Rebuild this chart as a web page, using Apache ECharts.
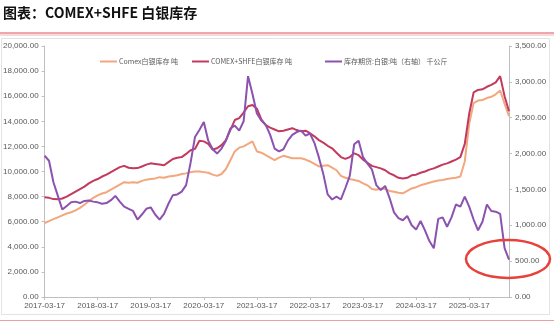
<!DOCTYPE html>
<html><head><meta charset="utf-8">
<script src="https://cdn.jsdelivr.net/npm/echarts@6/dist/echarts.min.js"></script>
<style>html,body{margin:0;padding:0;background:#fff}#c{width:554px;height:324px}</style>
</head><body><div id="c"></div>
<script>
// Monthly dates from 2017-03 to 2025-12
const categories = [];
for (let y = 2017; y <= 2025; y++) {
  for (let m = 1; m <= 12; m++) {
    if (y === 2017 && m < 3) continue;
    categories.push(y + '-' + String(m).padStart(2, '0') + '-17');
  }
}
const seriesNames = ['Comex白银库存 吨', 'COMEX+SHFE白银库存 吨', '库存期货:白银:吨（右轴） 千公斤'];
const comex = [5900,6050,6200,6350,6500,6650,6750,6900,7100,7350,7650,7900,8100,8250,8350,8550,8750,8950,9150,9100,9150,9100,9250,9350,9400,9450,9550,9500,9600,9650,9700,9800,9850,9950,10000,10000,9950,9900,9750,9650,9800,10200,10900,11600,11900,12000,12200,12400,11600,11500,11300,11100,10900,11100,11250,11150,11050,11050,11050,10950,10800,10600,10400,10450,10500,10300,10100,9650,9500,9400,9330,9250,9060,8900,8600,8550,8650,8600,8450,8380,8300,8260,8450,8650,8750,8900,9000,9100,9200,9280,9330,9400,9460,9500,9600,10800,13800,15450,15650,15700,15850,15950,16150,16450,15400,14400];
const total = [7950,7900,7800,7780,7850,8000,8200,8400,8600,8800,9050,9250,9400,9600,9750,9950,10150,10350,10450,10300,10250,10270,10400,10550,10650,10600,10550,10500,10750,11000,11100,11150,11400,11700,11800,12450,12400,12200,11750,11850,12100,12500,13300,14100,14250,14700,15200,15300,15000,14150,13700,13500,13350,13200,13250,13350,13450,13300,13200,13250,13050,12800,12500,12300,12050,11850,11500,11150,11000,11150,11450,11300,10950,10700,10450,10350,10250,10100,9850,9700,9500,9450,9500,9700,9750,9900,10000,10150,10250,10400,10550,10650,10800,10950,11150,12200,14600,16300,16500,16550,16750,16900,17100,17600,16000,14800];
const futures = [1970,1900,1600,1410,1220,1270,1320,1330,1310,1340,1345,1330,1320,1300,1310,1350,1410,1330,1260,1230,1200,1080,1150,1230,1250,1150,1080,1160,1300,1420,1430,1470,1560,1870,2230,2330,2440,2180,2060,2000,2070,2180,2350,2390,2320,2450,3080,2830,2560,2460,2400,2260,2070,2030,2060,2180,2260,2300,2320,2250,2280,2150,1950,1720,1430,1360,1400,1360,1520,1690,2130,2180,1950,1860,1780,1560,1490,1550,1380,1180,1100,1070,1130,1000,940,1060,930,780,680,1090,1110,980,1110,1290,1260,1400,1260,1080,930,1050,1290,1200,1190,1160,680,520];
const leftTicks = {min: 0, max: 20000, interval: 2000};
const rightTicks = {min: 0, max: 3500, interval: 500};

const fmt = v => Number(v).toLocaleString('en-US', {minimumFractionDigits: 2, maximumFractionDigits: 2});
const lab = {fontSize: 8, color: '#595959', fontFamily: 'Liberation Sans'};
const legendBase = {top: 53, itemWidth: 17, itemHeight: 2, icon: 'rect', itemGap: 0,
  textStyle: {fontSize: 7, color: '#595959', fontFamily: 'Noto Sans CJK SC', padding: [0, 0, 0, -3]}};
const chart = echarts.init(document.getElementById('c'), null, {renderer: 'canvas'});
chart.setOption({
  animation: false,
  backgroundColor: '#fff',
  grid: {left: 35, right: 45, top: 46, bottom: 27},
  legend: [
    Object.assign({left: 95, data: [seriesNames[0]]}, legendBase),
    Object.assign({left: 187, data: [seriesNames[1]]}, legendBase),
    Object.assign({left: 320, data: [seriesNames[2]]}, legendBase)
  ],
  xAxis: {
    type: 'category', data: categories, boundaryGap: false,
    axisLine: {lineStyle: {color: '#BFBFBF'}},
    axisTick: {interval: 11, lineStyle: {color: '#BFBFBF'}, length: 3},
    axisLabel: Object.assign({interval: 11, margin: 5, formatter: v => v.slice(0, 4) + '-03-17'}, lab),
    splitLine: {show: false}
  },
  yAxis: [
    Object.assign({type: 'value', position: 'left',
      axisLine: {show: true, lineStyle: {color: '#BFBFBF'}},
      axisTick: {show: true, length: 3, lineStyle: {color: '#BFBFBF'}},
      axisLabel: Object.assign({formatter: fmt, margin: 6}, lab),
      splitLine: {show: false}}, leftTicks),
    Object.assign({type: 'value', position: 'right',
      axisLine: {show: true, lineStyle: {color: '#BFBFBF'}},
      axisTick: {show: true, length: 3, lineStyle: {color: '#BFBFBF'}},
      axisLabel: Object.assign({formatter: fmt, margin: 6}, lab),
      splitLine: {show: false}}, rightTicks)
  ],
  series: [
    {name: seriesNames[0], type: 'line', data: comex, showSymbol: false, yAxisIndex: 0,
     itemStyle: {color: '#F2A77E'}, lineStyle: {width: 2, color: '#F2A77E'}},
    {name: seriesNames[1], type: 'line', data: total, showSymbol: false, yAxisIndex: 0,
     itemStyle: {color: '#C23A5E'}, lineStyle: {width: 2, color: '#C23A5E'}},
    {name: seriesNames[2], type: 'line', data: futures, showSymbol: false, yAxisIndex: 1,
     itemStyle: {color: '#8B52B0'}, lineStyle: {width: 2, color: '#8B52B0'}}
  ],
  graphic: [
    {type: 'text', left: 3, top: 6, style: {text: '图表：COMEX+SHFE 白银库存', fontSize: 14, fontWeight: 'bold', fill: '#111', fontFamily: 'Noto Sans CJK SC'}},
    {type: 'line', shape: {x1: 0, y1: 33, x2: 554, y2: 33}, style: {stroke: '#D9505C', lineWidth: 1}},
    {type: 'line', shape: {x1: 0, y1: 35, x2: 554, y2: 35}, style: {stroke: '#F0B4B8', lineWidth: 1}},
    {type: 'rect', shape: {x: 1.5, y: 38.5, width: 548, height: 276}, style: {fill: 'none', stroke: '#E3E3E3', lineWidth: 1}},
    {type: 'line', shape: {x1: 0, y1: 320.5, x2: 554, y2: 320.5}, style: {stroke: '#E8A0A4', lineWidth: 1}},
    {type: 'ellipse', shape: {cx: 508, cy: 259, rx: 42, ry: 19}, style: {fill: 'none', stroke: '#E8403A', lineWidth: 2.5}, z: 100}
  ]
});
</script></body></html>
